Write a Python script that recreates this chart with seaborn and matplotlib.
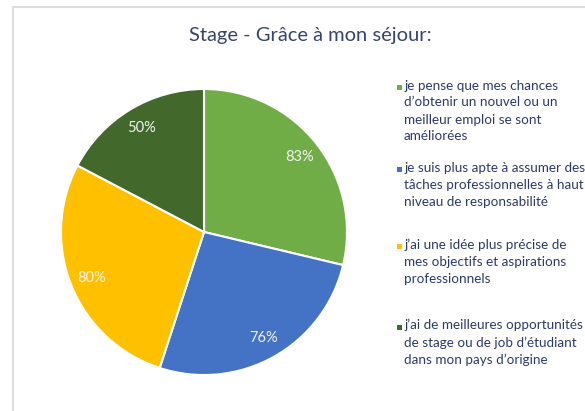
import matplotlib
matplotlib.use("Agg")
import matplotlib.pyplot as plt
import seaborn as sns
from matplotlib.patches import Rectangle

sns.set_theme(style="white")
plt.rcParams["font.family"] = ["Lato", "DejaVu Sans"]

# Share of respondents agreeing with each statement
values = [83, 76, 80, 50]
value_labels = [f"{v}%" for v in values]
categories = [
    "je pense que mes chances\nd\u2019obtenir un nouvel ou un\nmeilleur emploi se sont\naméliorées",
    "je suis plus apte à assumer des\ntâches professionnelles à haut\nniveau de responsabilité",
    "j\u2019ai une idée plus précise de\nmes objectifs et aspirations\nprofessionnels",
    "j\u2019ai de meilleures opportunités\nde stage ou de job d\u2019étudiant\ndans mon pays d\u2019origine",
]
colors = ["#70ad47", "#4472c4", "#ffc000", "#43682b"]
title = "Stage - Grâce à mon séjour:"

W, H = 585, 411
fig = plt.figure(figsize=(W / 100, H / 100), dpi=100)
fig.patch.set_facecolor("white")

# light frame around the chart area
fig.add_artist(Rectangle((13 / W, -0.1), 1.2, 1 - 7 / H + 0.1,
                         transform=fig.transFigure, fill=False,
                         edgecolor="#dedede", linewidth=1.5))

# pie
cx, cy, r = 204, 232, 143
ax = fig.add_axes([(cx - r) / W, 1 - (cy + r) / H, 2 * r / W, 2 * r / H])
wedges, texts = ax.pie(values, labels=value_labels, colors=colors,
                       startangle=90, counterclock=False,
                       labeldistance=0.85,
                       wedgeprops=dict(edgecolor="white", linewidth=1.5),
                       textprops=dict(color="#f2f2f2", fontsize=10.5))
for t in texts:
    t.set_horizontalalignment("center")
    t.set_verticalalignment("center")
ax.set_xlim(-1, 1)
ax.set_ylim(-1, 1)
ax.set_aspect("equal")
ax.axis("off")

fig.text(310 / W, 1 - 35 / H, title, ha="center", va="center",
         fontsize=14.5, color="#34456e")

# legend entries
first_line_y = [88, 170, 247, 327]
for label, col, y in zip(categories, colors, first_line_y):
    fig.add_artist(Rectangle((396.5 / W, 1 - (y + 2.5) / H), 5 / W, 5 / H,
                             transform=fig.transFigure, facecolor=col,
                             edgecolor="none"))
    fig.text(404 / W, 1 - (y - 8.5) / H, label, ha="left", va="top",
             fontsize=9.7, color="#2c3a66", linespacing=1.5)

fig.savefig("out.png", dpi=100, facecolor="white")
